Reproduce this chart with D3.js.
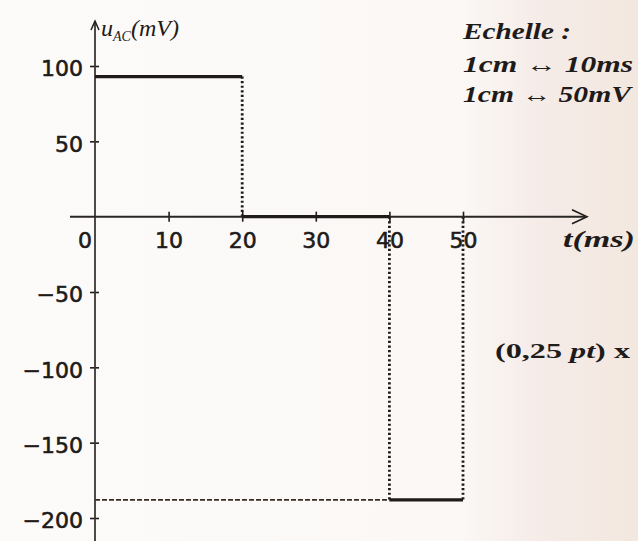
<!DOCTYPE html>
<html><head><meta charset="utf-8">
<script src="https://cdn.jsdelivr.net/npm/d3@7"></script>
<style>html,body{margin:0;padding:0;background:#fbf9f7;}svg{display:block;}</style>
</head><body>
<script>
// Data
const xTicks = [10, 20, 30, 40, 50];
const yTicks = [100, 50, -50, -100, -150, -200];
const segStart = [0, 20, 40];
const segEnd = [20, 40, 50];
const segValue = [93, 0, -188];
// projection (dotted) lines
const vDotT = [20, 40, 50];
const vDotU = [93, -188, -188];
const hDotU = -188, hDotT0 = 0, hDotT1 = 40;

const W = 638, H = 541;
const svg = d3.select("body").append("svg").attr("width", W).attr("height", H);
const defs = svg.append("defs");
const g = defs.append("linearGradient").attr("id", "bg").attr("x1", 0).attr("x2", 1).attr("y1", 0).attr("y2", 0);
g.append("stop").attr("offset", "0").attr("stop-color", "#fcfbf9");
g.append("stop").attr("offset", "0.72").attr("stop-color", "#fbf8f6");
g.append("stop").attr("offset", "0.85").attr("stop-color", "#f5ebe7");
g.append("stop").attr("offset", "1").attr("stop-color", "#f3e8df");
svg.append("rect").attr("width", W).attr("height", H).attr("fill", "url(#bg)");

const x = d3.scaleLinear().domain([0, 50]).range([95, 463]);
const y = d3.scaleLinear().domain([100, -200]).range([66, 518]);
const ink = "#1e1b1a";
const tickFont = { family: "DejaVu Sans", size: 22 };

// dotted projections
vDotT.forEach((t, i) => {
  svg.append("line").attr("x1", x(t)).attr("x2", x(t)).attr("y1", y(0)).attr("y2", y(vDotU[i]))
    .attr("stroke", ink).attr("stroke-width", 2.8).attr("stroke-dasharray", "2.2,2.4");
});
svg.append("line").attr("x1", x(hDotT0)).attr("x2", x(hDotT1)).attr("y1", y(hDotU)).attr("y2", y(hDotU))
  .attr("stroke", "#3a2a22").attr("stroke-width", 1.7).attr("stroke-dasharray", "5,2");

// axes
const yAxisG = svg.append("g").attr("transform", `translate(${x(0)},0)`)
  .call(d3.axisLeft(y).tickValues(yTicks).tickSize(0).tickFormat(d => d3.format("")(d).replace("-", "\u2212")));
yAxisG.select(".domain").remove();
yAxisG.selectAll("text").attr("x", -12).attr("dy", "0.45em")
  .attr("font-family", tickFont.family).attr("font-size", tickFont.size).attr("fill", ink)
  .attr("stroke", ink).attr("stroke-width", 0.6);
yAxisG.selectAll(".tick").append("line").attr("x1", -5).attr("x2", 4).attr("stroke", ink).attr("stroke-width", 1.6);

svg.append("line").attr("x1", x(0)).attr("x2", x(0)).attr("y1", 22).attr("y2", H)
  .attr("stroke", "#3a3634").attr("stroke-width", 1.8);
svg.append("path").attr("d", `M${x(0)-4},30 L${x(0)},21 L${x(0)+4},30`).attr("fill", "none")
  .attr("stroke", ink).attr("stroke-width", 1.5);

const xAxisG = svg.append("g").attr("transform", `translate(0,${y(0)})`)
  .call(d3.axisBottom(x).tickValues(xTicks).tickSize(0));
xAxisG.select(".domain").remove();
xAxisG.selectAll("text").attr("y", 31).attr("dy", 0)
  .attr("font-family", tickFont.family).attr("font-size", tickFont.size).attr("fill", ink)
  .attr("stroke", ink).attr("stroke-width", 0.6);
xAxisG.selectAll(".tick").append("line").attr("y1", -5).attr("y2", 5).attr("stroke", ink).attr("stroke-width", 1.6);

svg.append("line").attr("x1", 70).attr("x2", 585).attr("y1", y(0)).attr("y2", y(0))
  .attr("stroke", "#2a2624").attr("stroke-width", 2);
svg.append("path").attr("d", `M572,${y(0)-7} L587,${y(0)} L572,${y(0)+7}`).attr("fill", "none")
  .attr("stroke", ink).attr("stroke-width", 1.6);

svg.append("text").attr("x", 85).attr("y", y(0) + 31).attr("text-anchor", "middle")
  .attr("font-family", tickFont.family).attr("font-size", tickFont.size).attr("fill", ink)
  .attr("stroke", ink).attr("stroke-width", 0.6).text("0");

// signal
segValue.forEach((u, i) => {
  svg.append("line").attr("x1", x(segStart[i])).attr("x2", x(segEnd[i])).attr("y1", y(u)).attr("y2", y(u))
    .attr("stroke", ink).attr("stroke-width", 3.2);
});

// labels
const lab = svg.append("text").attr("x", 101).attr("y", 36)
  .attr("font-family", "Liberation Serif").attr("font-style", "italic").attr("font-size", 24).attr("fill", ink);
lab.append("tspan").text("u");
lab.append("tspan").attr("font-size", 14).attr("dy", 5).text("AC");
lab.append("tspan").attr("dy", -5).text("(mV)");

const serif = (t, xx, yy, len) => svg.append("text").attr("x", xx).attr("y", yy)
  .attr("font-family", "Liberation Serif").attr("font-style", "italic").attr("font-weight", "bold")
  .attr("font-size", 23).attr("fill", ink).attr("textLength", len).attr("lengthAdjust", "spacingAndGlyphs").text(t);
serif("Echelle :", 463, 39, 108);
serif("1cm \u2194 10ms", 463, 72, 170);
serif("1cm \u2194 50mV", 463, 102, 168);
serif("t(ms)", 563, 247, 72);

svg.append("text").attr("x", 495).attr("y", 358)
  .attr("font-family", "Liberation Serif").attr("font-weight", "bold").attr("font-size", 21).attr("fill", ink)
  .attr("textLength", 135).attr("lengthAdjust", "spacingAndGlyphs")
  .html('(0,25 <tspan font-style="italic">pt</tspan>) x');
</script>
</body></html>
